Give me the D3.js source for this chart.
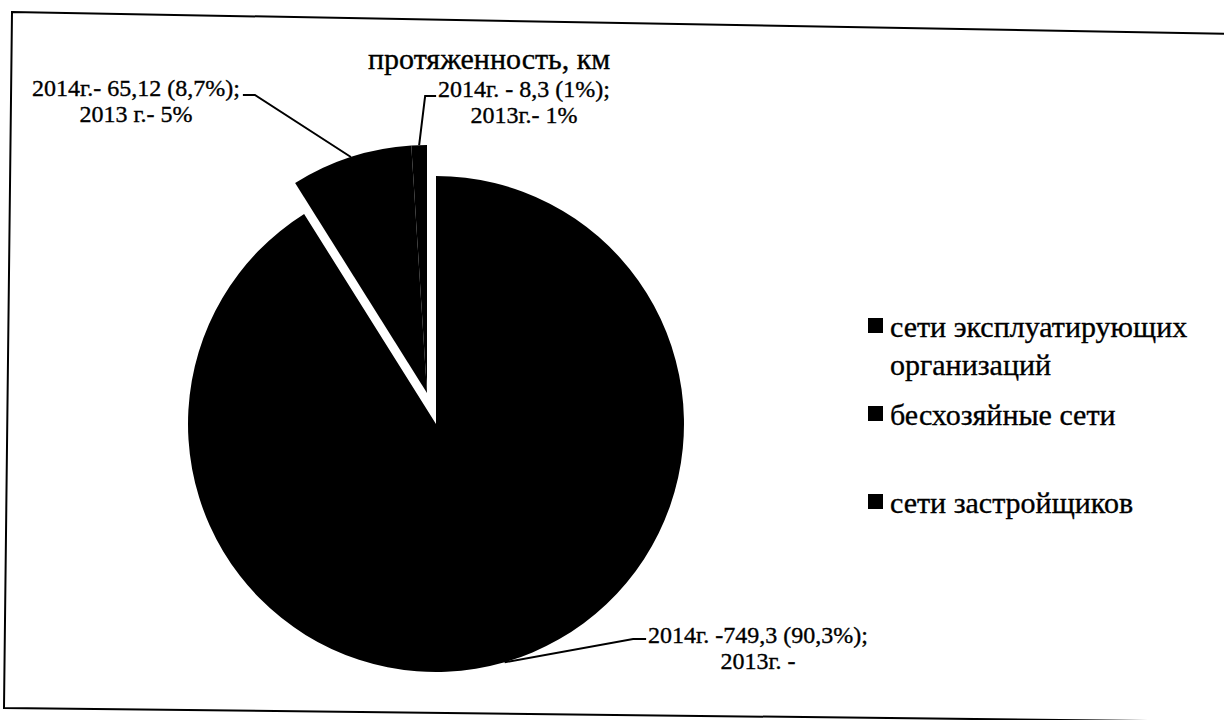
<!DOCTYPE html>
<html>
<head>
<meta charset="utf-8">
<script src="https://cdn.jsdelivr.net/npm/d3@7"></script>
<style>
  html, body { margin: 0; padding: 0; background: #fff; }
  svg { display: block; font-family: "Liberation Serif", "Times New Roman", serif; }
  text { fill: #000; stroke: #000; stroke-width: 0.35px; }
</style>
</head>
<body>
<svg id="chart" width="1224" height="720"></svg>
<script>
// данные диаграммы
const categories = ["сети эксплуатирующих организаций", "бесхозяйные сети", "сети застройщиков"];
const values2014 = [749.3, 65.12, 8.3];
const labels2014 = ["2014г. -749,3 (90,3%);", "2014г.- 65,12 (8,7%);", "2014г. - 8,3 (1%);"];
const labels2013 = ["2013г. -", "2013 г.- 5%", "2013г.- 1%"];
const legendLines = [["сети эксплуатирующих", "организаций"], ["бесхозяйные сети"], ["сети застройщиков"]];
const exploded = [false, true, true];

const svg = d3.select("#chart");

// рамка (скан слегка перекошен)
svg.append("path")
    .attr("d", "M12,12 L1236,34 L1236,722 L4,708 Z")
    .attr("fill", "none").attr("stroke", "#000").attr("stroke-width", 2);

// заголовок
svg.append("text")
    .attr("x", 368).attr("y", 69)
    .style("font-size", "30px")
    .text("протяженность, км");

// круговая диаграмма
const cx = 436, cy = 424, radius = 248;
const explodeOffset = [-9, -31];

const pie = d3.pie().sort(null).startAngle(0).endAngle(2 * Math.PI);
const arcs = pie(values2014);
const arc = d3.arc().innerRadius(0).outerRadius(radius);

const g = svg.append("g").attr("transform", `translate(${cx},${cy})`);

g.selectAll("path.slice").data(arcs).join("path")
    .attr("class", "slice")
    .attr("transform", (d, i) => exploded[i] ? `translate(${explodeOffset[0]},${explodeOffset[1]})` : null)
    .attr("d", arc)
    .attr("fill", "#000");

// подписи данных и линии выносок
const labelPos = [
    { x: 758, y: 643, side: "left" },
    { x: 136, y: 96, side: "right" },
    { x: 524, y: 97, side: "left" }
];

arcs.forEach((d, i) => {
    const a = (d.startAngle + d.endAngle) / 2;
    const off = exploded[i] ? explodeOffset : [0, 0];
    const px = cx + off[0] + radius * Math.sin(a);
    const py = cy + off[1] - radius * Math.cos(a);
    const p = labelPos[i];

    const t = svg.append("text")
        .attr("text-anchor", "middle")
        .style("font-size", "24px");
    t.append("tspan").attr("x", p.x).attr("y", p.y).text(labels2014[i]);
    t.append("tspan").attr("x", p.x).attr("y", p.y + 26).text(labels2013[i]);

    const w = t.select("tspan").node().getComputedTextLength();
    const ly = p.y - 1;
    let pts;
    if (p.side === "left") {
        const edge = p.x - w / 2 - 2;
        if (i === 2) pts = [[px, py], [px + 6, ly], [edge, ly]];
        else pts = [[px, py], [edge - 13, ly - 3], [edge, ly - 3]];
    } else {
        const edge = p.x + w / 2 + 3;
        pts = [[px, py], [edge + 12, ly], [edge, ly]];
    }
    svg.append("path")
        .attr("d", d3.line()(pts))
        .attr("fill", "none").attr("stroke", "#000").attr("stroke-width", 2);
});

// легенда
const legendY = d3.scalePoint().domain(categories).range([337, 513]);
const legend = svg.append("g");
categories.forEach((c, i) => {
    const y = legendY(c);
    legend.append("rect")
        .attr("x", 868).attr("y", y - 19).attr("width", 15).attr("height", 15)
        .attr("fill", "#000");
    const t = legend.append("text").style("font-size", "30px");
    legendLines[i].forEach((ln, k) => {
        t.append("tspan").attr("x", 890).attr("y", y + k * 38).text(ln);
    });
});
</script>
</body>
</html>
